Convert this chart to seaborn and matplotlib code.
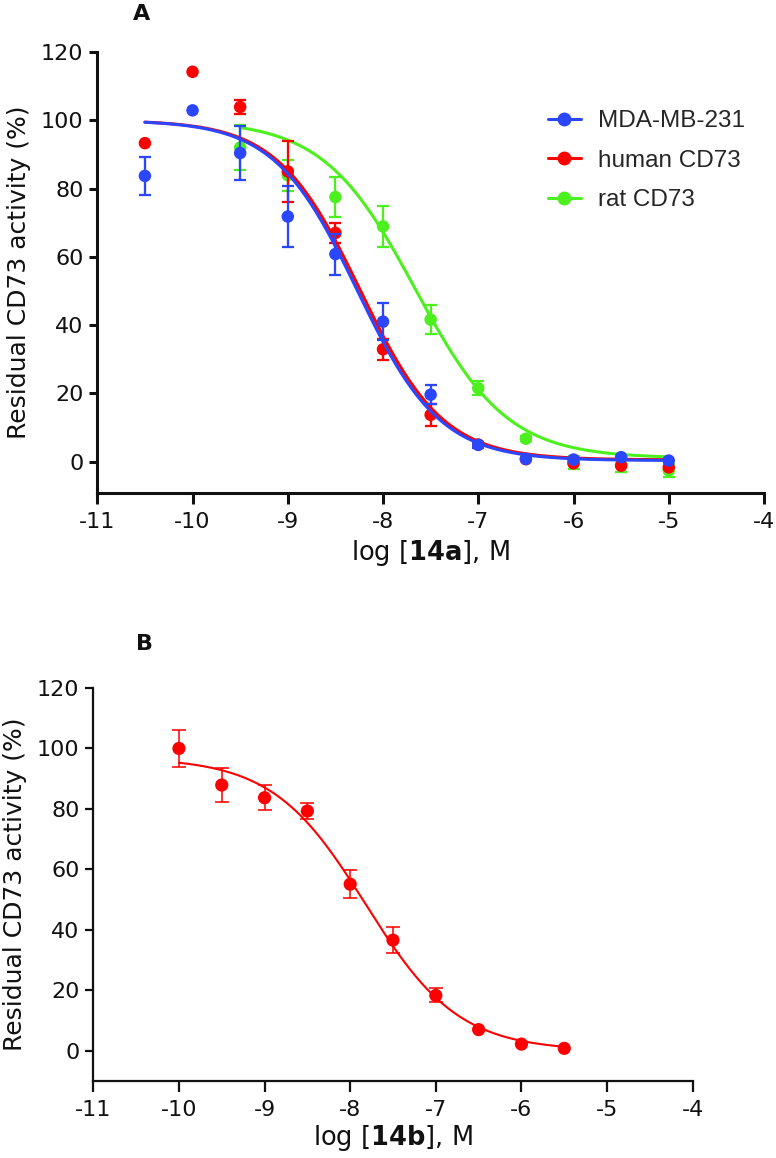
import numpy as np
import pandas as pd
import matplotlib
matplotlib.use("Agg")
import matplotlib.pyplot as plt
import seaborn as sns
from matplotlib.lines import Line2D

# ---------------- data ----------------
log_conc_a = [-10.5, -10, -9.5, -9, -8.5, -8, -7.5, -7, -6.5, -6, -5.5, -5]
mda_mean = [83.7, 102.9, 90.4, 71.8, 60.8, 41.0, 19.6, 4.9, 0.8, 0.6, 1.3, 0.3]
mda_err = [5.6, 0, 8.0, 9.0, 6.0, 5.4, 2.8, 0.8, 0, 0, 0, 0]
human_mean = [93.3, 114.2, 103.9, 85.0, 67.0, 32.9, 13.7, 5.0, 0.7, -0.5, -1.2, -1.7]
human_err = [0, 0, 2.0, 9.0, 3.0, 3.0, 3.2, 0.8, 0, 0, 0, 0]
log_conc_rat = [-9.5, -9, -8.5, -8, -7.5, -7, -6.5, -6, -5.5, -5]
rat_mean = [92.0, 83.9, 77.5, 68.9, 41.6, 21.5, 6.7, -0.3, -1.0, -2.6]
rat_err = [6.7, 4.6, 5.8, 5.9, 4.2, 2.0, 0.8, 2.0, 2.0, 2.0]

log_conc_b = [-10, -9.5, -9, -8.5, -8, -7.5, -7, -6.5, -6, -5.5]
b_mean = [100.0, 87.9, 83.7, 79.3, 55.1, 36.6, 18.3, 7.0, 2.2, 0.8]
b_err = [6.2, 5.6, 4.1, 2.6, 4.7, 4.2, 2.3, 0, 0, 0]

# fitted 4-parameter logistic curves: (top, bottom, logIC50, hill)
fit_mda = (100.0, 0.3, -8.27, 1.0)
fit_human = (100.0, 0.5, -8.24, 1.0)
fit_rat = (100.0, 1.0, -7.66, 0.9)
fit_b = (97.0, 0.0, -7.82, 0.8)

series_labels = ["MDA-MB-231", "human CD73", "rat CD73"]
x_ticks = [-11, -10, -9, -8, -7, -6, -5, -4]
y_ticks = [0, 20, 40, 60, 80, 100, 120]

BLUE = "#2b46ff"
RED = "#ff0000"
GREEN = "#4cf01e"


def logistic(x, p):
    top, bottom, lic50, hill = p
    return bottom + (top - bottom) / (1 + 10 ** (hill * (x - lic50)))


sns.set_theme(style="ticks")
plt.rcParams["font.family"] = ["DejaVu Sans"]
plt.rcParams["mathtext.fontset"] = "dejavusans"

fig = plt.figure(figsize=(7.76, 11.58), dpi=100)
W, H = 776, 1158


def add_ax(x0, x1, ytop, ybot):
    return fig.add_axes([x0 / W, 1 - ybot / H, (x1 - x0) / W, (ybot - ytop) / H])


def style_axis(ax, lw, ylim):
    sns.despine(ax=ax)
    for s in ("left", "bottom"):
        ax.spines[s].set_linewidth(lw)
        ax.spines[s].set_color("#111111")
    ax.set_xlim(-11, -4)
    ax.set_ylim(*ylim)
    ax.set_xticks(x_ticks)
    ax.set_yticks(y_ticks)
    ax.set_xticklabels([str(t) for t in x_ticks])
    ax.set_yticklabels([str(t) for t in y_ticks])
    ax.tick_params(axis="both", direction="out", width=lw, color="#111111",
                   labelsize=16, labelcolor="#111111")
    ax.tick_params(axis="x", length=8, pad=6)
    ax.tick_params(axis="y", length=6, pad=4)
    ax.set_facecolor("white")
    ax.grid(False)


def draw_series(ax, xs, mean, err, fit, color, lw, ms, cap, z):
    xs = np.asarray(xs, float)
    mean = np.asarray(mean, float)
    err = np.asarray(err, float)
    xc = np.linspace(xs.min(), xs.max(), 300)
    curve = pd.DataFrame({"x": xc, "y": logistic(xc, fit)})
    sns.lineplot(data=curve, x="x", y="y", ax=ax, color=color, lw=lw,
                 zorder=z, legend=False)
    m = err > 0
    ax.errorbar(xs[m], mean[m], yerr=err[m], fmt="none", ecolor=color,
                elinewidth=lw * 0.75, capsize=cap, capthick=lw * 0.75, zorder=z)
    pts = pd.DataFrame({"x": xs, "y": mean})
    sns.scatterplot(data=pts, x="x", y="y", ax=ax, color=color, s=ms ** 2,
                    edgecolor="none", zorder=z + 0.5, legend=False)


# ---------------- Panel A ----------------
axA = add_ax(97.3, 764, 52, 493)
style_axis(axA, 2.2, (-9.2, 120))
draw_series(axA, log_conc_rat, rat_mean, rat_err, fit_rat, GREEN, 2.2, 9, 4.3, 3)
draw_series(axA, log_conc_a, human_mean, human_err, fit_human, RED, 2.2, 9, 4.3, 4)
draw_series(axA, log_conc_a, mda_mean, mda_err, fit_mda, BLUE, 2.2, 9, 4.3, 5)
axA.set_xlabel(r"log [$\mathbf{14a}$], M", fontsize=18.5, color="#111111", labelpad=4)
axA.set_ylabel("Residual CD73 activity (%)", fontsize=18, color="#111111", labelpad=7)

handles = [Line2D([], [], color=c, lw=2.2, marker="o", markersize=9)
           for c in (BLUE, RED, GREEN)]
axA.legend(handles, series_labels, loc="upper left",
           bbox_to_anchor=(548 / W, 1 - 110 / H), bbox_transform=fig.transFigure,
           frameon=False, prop={"family": "Liberation Sans", "size": 17.5},
           handlelength=1.35, handletextpad=0.7, labelspacing=0.72,
           borderpad=0, borderaxespad=0)

fig.text(142 / W, 1 - 14 / H, "A", fontsize=16, fontweight="bold",
         ha="center", va="center", color="#111111")

# ---------------- Panel B ----------------
axB = add_ax(93.3, 692.7, 688, 1081)
style_axis(axB, 1.6, (-10, 120))
draw_series(axB, log_conc_b, b_mean, b_err, fit_b, RED, 1.5, 9.5, 5, 3)
axB.set_xlabel(r"log [$\mathbf{14b}$], M", fontsize=18.5, color="#111111", labelpad=2)
axB.set_ylabel("Residual CD73 activity (%)", fontsize=18, color="#111111", labelpad=7)

fig.text(144 / W, 1 - 644 / H, "B", fontsize=16, fontweight="bold",
         ha="center", va="center", color="#111111")

fig.savefig("out.png", dpi=100, facecolor="white")
